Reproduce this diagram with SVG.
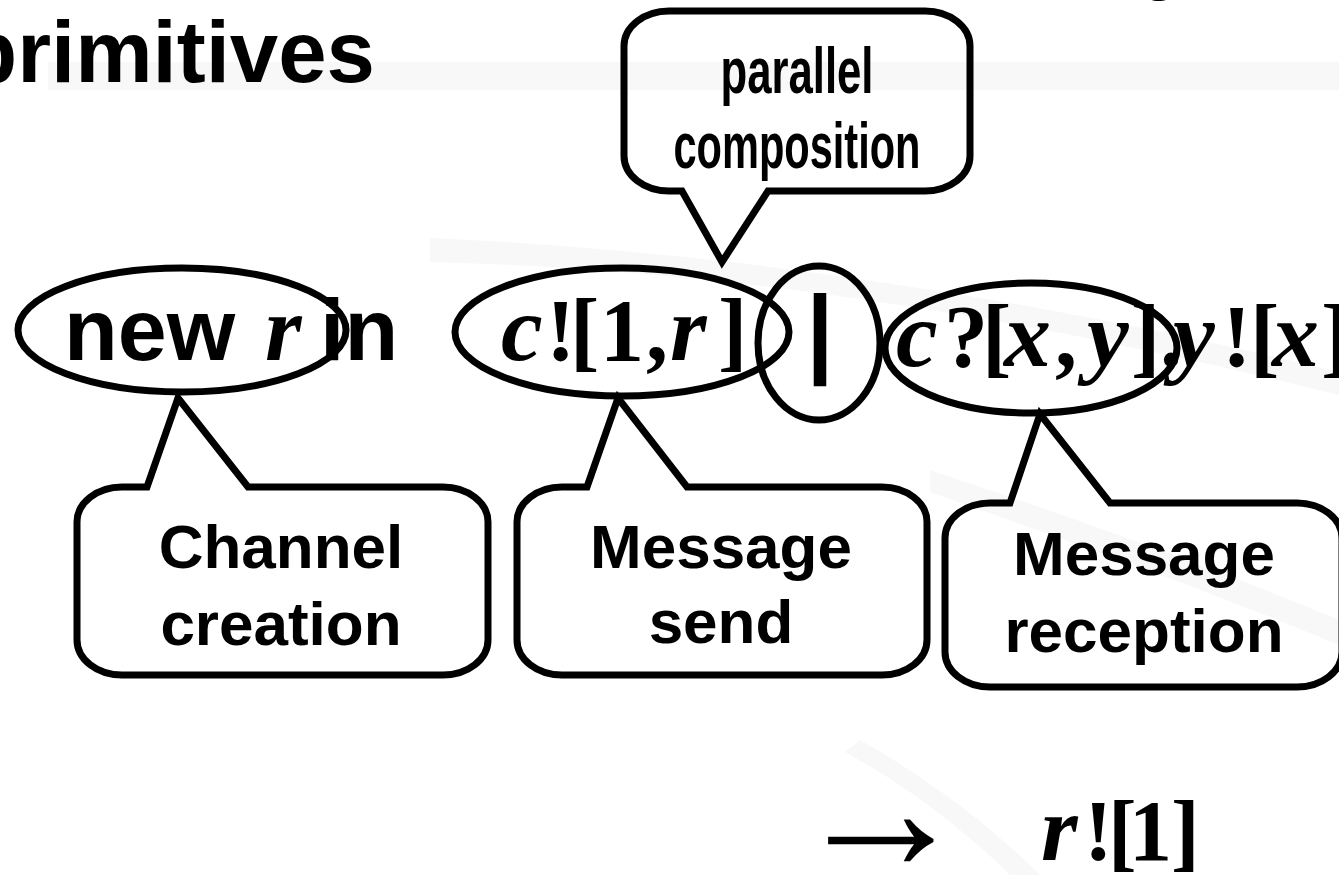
<svg xmlns="http://www.w3.org/2000/svg" width="1339" height="875" viewBox="0 0 1339 875">
<style>
.bg{fill:#f8f8f8;stroke:none}
.co{fill:none;stroke:#000;stroke-width:7;stroke-linejoin:miter}
.el{fill:none;stroke:#000;stroke-width:7}
.sans{font-family:"Liberation Sans",Arial,sans-serif;font-weight:bold;fill:#000}
.math{font-family:"Liberation Serif","Times New Roman",serif;font-weight:bold;fill:#000}
.it{font-style:italic;font-size:94px}
</style>
<rect width="1339" height="875" fill="#fff"/>
<g id="background">
<path class="bg" d="M48 62 L1339 62 L1339 90 L48 90 Z"/>
<path class="bg" d="M430 238 C700 250 1000 290 1339 372 L1339 395 C1000 310 700 268 430 262 Z"/>
<path class="bg" d="M930 470 C1080 520 1220 570 1339 620 L1339 645 C1220 595 1080 545 930 492 Z"/>
<path class="bg" d="M860 740 C930 780 990 825 1040 875 L1010 875 C965 830 905 785 845 752 Z"/>
</g>
<g id="title">
<text class="sans" x="-36" y="82" font-size="87">primitives</text>
<text class="sans" x="1148" y="-17" font-size="88">y</text>
</g>
<g id="expression">
<text class="sans" x="64" y="360" font-size="88">new</text>
<text class="math" x="265" y="360" font-size="88"><tspan class="it">r</tspan></text>
<text class="sans" x="320" y="360" font-size="88">in</text>
<text class="math" y="360" font-size="88"><tspan class="it" x="501">c</tspan><tspan x="546">!</tspan><tspan x="570">[</tspan><tspan x="600">1</tspan><tspan x="646">,</tspan><tspan class="it" x="670">r</tspan><tspan x="718">]</tspan></text>
<text class="sans" x="820" y="364" font-size="98" font-weight="normal" text-anchor="middle">|</text>
<text class="math" y="366" font-size="88"><tspan class="it" x="896">c</tspan><tspan x="944">?</tspan><tspan x="982">[</tspan><tspan class="it" x="1004">x</tspan><tspan x="1055">,</tspan><tspan class="it" x="1087">y</tspan><tspan x="1131">]</tspan><tspan x="1160">.</tspan><tspan class="it" x="1173">y</tspan><tspan x="1222">!</tspan><tspan x="1250">[</tspan><tspan class="it" x="1272">x</tspan><tspan x="1321">]</tspan></text>
</g>
<g id="result">
<text class="math" x="792" y="870" font-size="178" font-weight="normal">→</text>
<text class="math" y="860" font-size="86"><tspan class="it" x="1041">r</tspan><tspan x="1084">!</tspan><tspan x="1108">[</tspan><tspan x="1129">1</tspan><tspan x="1171">]</tspan></text>
</g>
<g id="connectors">
<ellipse id="e-new" class="el" cx="182" cy="330" rx="164" ry="62"/>
<ellipse id="e-send" class="el" cx="622" cy="332" rx="167" ry="64"/>
<ellipse id="e-par" class="el" cx="819" cy="343" rx="61" ry="77"/>
<ellipse id="e-recv" class="el" cx="1031" cy="348" rx="146" ry="65"/>
</g>
<g id="callout-parallel">
<path class="co" d="M669 11 L925 11 A45 35 0 0 1 970 46 L970 156 A45 35 0 0 1 925 191 L768 191 L722 262 L682 191 L669 191 A45 35 0 0 1 624 156 L624 46 A45 35 0 0 1 669 11 Z"/>
<text class="sans" x="720.5" y="93" font-size="64" textLength="153" lengthAdjust="spacingAndGlyphs">parallel</text>
<text class="sans" x="673.5" y="168" font-size="64" textLength="247" lengthAdjust="spacingAndGlyphs">composition</text>
</g>
<g id="callout-channel">
<path class="co" d="M147 487 L178 398 L248 487 L443 487 A45 35 0 0 1 488 522 L488 640 A45 35 0 0 1 443 675 L122 675 A45 35 0 0 1 77 640 L77 522 A45 35 0 0 1 122 487 Z"/>
<text class="sans" x="281" y="568" font-size="62" text-anchor="middle">Channel</text>
<text class="sans" x="281" y="645" font-size="62" text-anchor="middle">creation</text>
</g>
<g id="callout-send">
<path class="co" d="M587 487 L618 398 L687 487 L882 487 A45 35 0 0 1 927 522 L927 640 A45 35 0 0 1 882 675 L562 675 A45 35 0 0 1 517 640 L517 522 A45 35 0 0 1 562 487 Z"/>
<text class="sans" x="721" y="568" font-size="62" text-anchor="middle">Message</text>
<text class="sans" x="721" y="643" font-size="62" text-anchor="middle">send</text>
</g>
<g id="callout-reception">
<path class="co" d="M1010 503 L1040 414 L1110 503 L1297 503 A45 35 0 0 1 1342 538 L1342 652 A45 35 0 0 1 1297 687 L990 687 A45 35 0 0 1 945 652 L945 538 A45 35 0 0 1 990 503 Z"/>
<text class="sans" x="1144" y="575" font-size="62" text-anchor="middle">Message</text>
<text class="sans" x="1144" y="652" font-size="62" text-anchor="middle">reception</text>
</g>
</svg>
